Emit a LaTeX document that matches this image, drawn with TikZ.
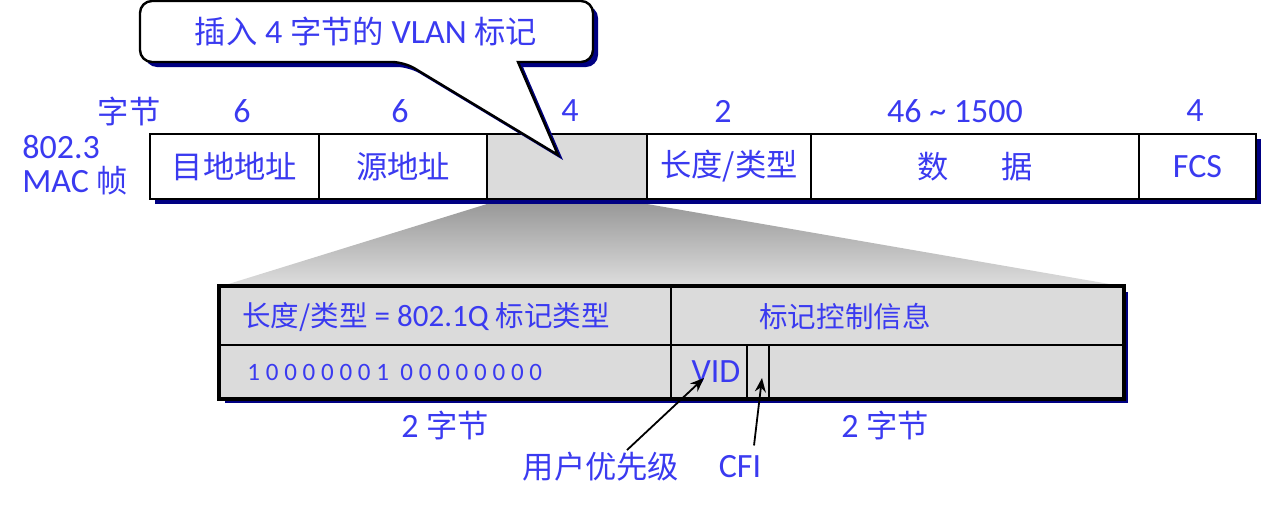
\documentclass[tikz,border=0pt]{standalone}
\usepackage{fontspec}
\setmainfont{Carlito}
\newfontfamily\cjk[Scale=0.92]{Noto Sans CJK SC}
\usepackage{xcolor}
\definecolor{ink}{RGB}{58,58,240}
\definecolor{navy}{RGB}{0,0,130}
\usepackage{tikz}
\usetikzlibrary{arrows.meta}
\tikzset{
  field/.style   ={ rectangle, draw=black, line width=1pt, fill=white, inner sep=0pt,
                    minimum height=32.5pt, text=ink, font=\fontsize{17}{20}\selectfont },
  tagfield/.style={ field, fill=black!14 },
  subfield/.style={ rectangle, draw=black, line width=1pt, fill=black!14, inner sep=0pt,
                    text=ink, font=\fontsize{16}{19}\selectfont },
  lbl/.style     ={ text=ink, inner sep=1pt, font=\fontsize{17}{17}\selectfont },
  small/.style   ={ lbl, font=\fontsize{15.5}{17}\selectfont },
  shadow/.style  ={ fill=navy, draw=none },
  ptr/.style     ={ -{Stealth[length=7pt,width=5.5pt]}, line width=0.9pt, draw=black }
}
\begin{document}
\begin{tikzpicture}[x=0.5pt,y=-0.5pt]
  \useasboundingbox (0,0) rectangle (1262,509);
%
  \node[lbl] (bytes) at (129,111) {\cjk 字节};
  \node[lbl] (hdst)  at (242,111) {6};
  \node[lbl] (hsrc)  at (400,111) {6};
  \node[lbl] (htag)  at (570,111) {4};
  \node[lbl] (hlen)  at (723,111) {2};
  \node[lbl] (hdata) at (955,111) {46 \textasciitilde\ 1500};
  \node[lbl] (hfcs)  at (1195,111) {4};
  \node[lbl,align=left,anchor=west] (frame) at (20,165) {802.3\\MAC {\cjk 帧}};
%
  \fill[shadow] (155,139) rectangle (1261,204);
  \node[field,minimum width=84.5pt] (dst)  at (234.5,166.5) {\cjk 目地地址};
  \node[field,minimum width=84pt]   (src)  at (403,166.5)   {\cjk 源地址};
  \node[tagfield,minimum width=80pt] (tag) at (567,166.5)   {};
  \node[field,minimum width=82pt]   (len)  at (729,166.5)   {\cjk 长度/类型};
  \node[field,minimum width=164pt]  (data) at (975,166.5)   {\cjk 数\hspace{1.7em}据};
  \node[field,minimum width=58.5pt] (fcs)  at (1197.5,166.5) {FCS};
%
  \fill[shadow,shift={(5,5)}] (404,62) -- (558,155) -- (518,62) [rounded corners=6pt]
        -- (593,62) -- (593,1) -- (140,1) -- (140,62) -- cycle;
  \draw[line width=1.2pt,fill=white] (404,62) -- (558,155) -- (518,62) [rounded corners=6pt]
        -- (593,62) -- (593,1) -- (140,1) -- (140,62) -- cycle;
  \node[lbl] (note) at (366,32) {{\cjk 插入} 4 {\cjk 字节的} VLAN {\cjk 标记}};
%
  \shade[top color=black!40,bottom color=black!13] (487,204) -- (647,204) -- (1121,286) -- (222,286) -- cycle;
%
  \fill[shadow] (225,292) rectangle (1128,403);
  \node[subfield,minimum width=225.5pt,minimum height=29pt]   (lentype) at (445.5,316) {};
  \node[subfield,minimum width=226pt,minimum height=29pt]     (tci)     at (897,316)   {};
  \node[subfield,minimum width=225.5pt,minimum height=26.5pt] (bits)    at (445.5,371.5) {};
  \node[subfield,minimum width=38pt,minimum height=26.5pt]    (vid)     at (709,371.5) {};
  \node[subfield,minimum width=11pt,minimum height=26.5pt]    (cfi)     at (758,371.5) {};
  \node[subfield,minimum width=177pt,minimum height=26.5pt]   (rest)    at (946,371.5) {};
  \draw[line width=1.6pt] (lentype.north west) rectangle (rest.south east);
  \node[small,anchor=west] (lttext) at (240,317) {{\cjk 长度/类型} = 802.1Q {\cjk 标记类型}};
  \node[small] (tcitext) at (845,317) {\cjk 标记控制信息};
  \node[lbl,anchor=west,font=\fontsize{12.5}{14}\addfontfeature{LetterSpace=23}\selectfont] (bitstext) at (245,372) {10000001 00000000};
  \node[lbl] (vidtext) at (716,372) {VID};
%
  \node[lbl] (lowl)   at (445,425) {2 {\cjk 字节}};
  \node[lbl] (lowr)   at (885,425) {2 {\cjk 字节}};
  \node[lbl] (prio)   at (601,467) {\cjk 用户优先级};
  \node[lbl] (cfilbl) at (740,467) {CFI};
  \coordinate (vidtip) at (704,378);
  \coordinate (cfitip) at (762,378);
  \draw[ptr] ([xshift=13pt]prio.north) -- (vidtip);
  \draw[ptr] ([xshift=7pt,yshift=4pt]cfilbl.north) -- (cfitip);
\end{tikzpicture}
\end{document}
